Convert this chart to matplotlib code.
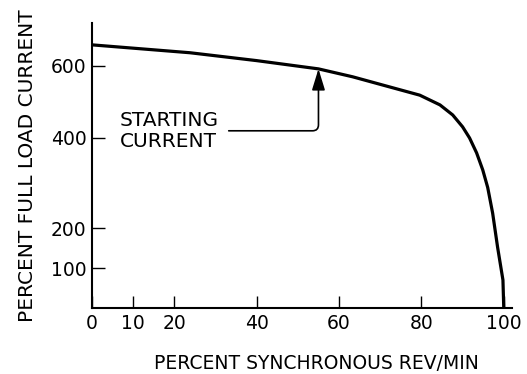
import numpy as np
import matplotlib
matplotlib.use("Agg")
import matplotlib.pyplot as plt

# ---- data ----
speed = [0, 23.8, 40, 55, 63.3, 71.6, 79.6, 84.5, 87.6, 90.0, 91.7, 93.4, 94.9, 96.1, 97.3, 98.5, 99.8, 100]
current = [659, 637, 615, 592, 570, 544, 519, 492, 464, 431, 400, 367, 329, 290, 233, 152, 70, 0]
x_ticks = [0, 10, 20, 40, 60, 80, 100]
y_ticks = [100, 200, 400, 600]
arrow_index = 3  # point on the curve the arrow points to
label_text = "STARTING\nCURRENT"
label_pos = (6.8, 420)

# ---- hand-drawn (piecewise) vertical scale of the original figure ----
YV = np.array([0, 100, 200, 400, 600, 720], float)
YP = np.array([0, 40, 80, 170, 242, 285], float)


def fwd(v):
    v = np.asarray(v, float)
    out = np.interp(v, YV, YP)
    out = np.where(v < YV[0], YP[0] + (v - YV[0]) * 0.4, out)
    out = np.where(v > YV[-1], YP[-1] + (v - YV[-1]) * 0.358, out)
    return out


def inv(p):
    p = np.asarray(p, float)
    out = np.interp(p, YP, YV)
    out = np.where(p < YP[0], YV[0] + (p - YP[0]) / 0.4, out)
    out = np.where(p > YP[-1], YV[-1] + (p - YP[-1]) / 0.358, out)
    return out


plt.rcParams['font.family'] = ['DejaVu Sans']

fig = plt.figure(figsize=(5.27, 3.74), dpi=100)
ax = fig.add_axes([92 / 527, (374 - 308) / 374, (512 - 92) / 527, (308 - 23) / 374])
ax.set_yscale('function', functions=(fwd, inv))

ax.plot(speed, current, color='black', lw=2.3, solid_capstyle='butt', solid_joinstyle='round')

ax.set_xlim(0, 102)
ax.set_ylim(0, 720)
ax.set_xticks(x_ticks)
ax.set_yticks(y_ticks)
ax.set_xticklabels([str(t) for t in x_ticks])
ax.set_yticklabels([str(t) for t in y_ticks])
ax.minorticks_off()

for s in ['top', 'right']:
    ax.spines[s].set_visible(False)
for s in ['left', 'bottom']:
    ax.spines[s].set_linewidth(1.5)

ax.tick_params(axis='both', direction='in', length=9, width=1.0, labelsize=13.5, pad=4)

ax.set_xlabel('PERCENT SYNCHRONOUS REV/MIN', fontsize=13.5)
ax.xaxis.set_label_coords(0.535, -0.163)
ax.set_ylabel('PERCENT FULL LOAD CURRENT', fontsize=14.5, labelpad=10)

ax.annotate(label_text,
            xy=(speed[arrow_index], current[arrow_index]),
            xytext=label_pos, textcoords='data',
            ha='left', va='center', fontsize=14.5, linespacing=1.12,
            arrowprops=dict(arrowstyle='-|>,head_length=0.65,head_width=0.2',
                            mutation_scale=20, color='black', lw=1.2,
                            connectionstyle='angle,angleA=0,angleB=90,rad=6',
                            shrinkA=5, shrinkB=0))

fig.savefig('out.png', dpi=100)
